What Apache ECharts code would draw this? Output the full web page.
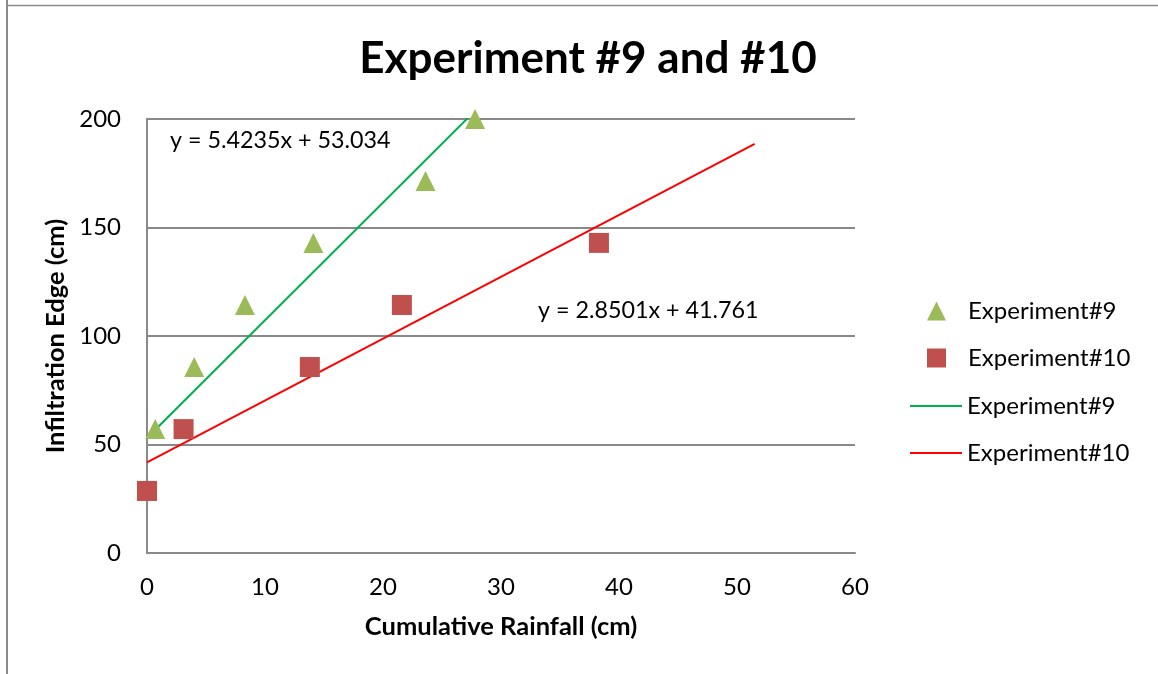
<!DOCTYPE html>
<html>
<head>
<meta charset="utf-8">
<script src="https://cdn.jsdelivr.net/npm/echarts@6/dist/echarts.min.js"></script>
<style>
html,body{margin:0;padding:0;background:#fff;}
#chart{width:1158px;height:674px;}
</style>
</head>
<body>
<div id="chart"></div>
<script>
// Data
const exp9X = [0, 0.7, 4.0, 8.3, 14.1, 23.6, 27.8];
const exp9Y = [28.6, 57.1, 85.7, 114.3, 142.9, 171.4, 200];
const exp10X = [0, 3.1, 13.8, 21.6, 38.3];
const exp10Y = [28.6, 57.1, 85.7, 114.3, 142.9];
// Trendline endpoints (Excel linear trendlines)
const trend9X = [0, 27.8];
const trend9Y = [53.0, 203.8];
const trend10X = [0, 51.5];
const trend10Y = [41.8, 188.5];
const eq9 = 'y = 5.4235x + 53.034';
const eq10 = 'y = 2.8501x + 41.761';
const xTicks = [0, 10, 20, 30, 40, 50, 60];
const yTicks = [0, 50, 100, 150, 200];

const zip = (xs, ys) => xs.map((x, i) => [x, ys[i]]);
const FONT = 'Lato';
const GRAY = '#898989';

const chart = echarts.init(document.getElementById('chart'), null, {renderer: 'canvas'});
chart.setOption({
  animation: false,
  backgroundColor: '#fff',
  title: {
    text: 'Experiment #9 and #10',
    left: 583, top: 54, textAlign: 'center', textVerticalAlign: 'middle',
    textStyle: {fontFamily: FONT, fontWeight: 'bold', fontSize: 44, color: '#000'}
  },
  grid: {left: 147, right: 303, top: 119, bottom: 121, containLabel: false},
  xAxis: {
    type: 'value', min: xTicks[0], max: xTicks[xTicks.length - 1], interval: 10,
    axisLine: {show: true, lineStyle: {color: GRAY, width: 2}},
    axisTick: {show: false},
    splitLine: {show: false},
    axisLabel: {fontFamily: FONT, fontSize: 24, color: '#000', margin: 22},
    name: 'Cumulative Rainfall (cm)', nameLocation: 'middle', nameGap: 61,
    nameTextStyle: {fontFamily: FONT, fontWeight: 'bold', fontSize: 25.5, color: '#000'}
  },
  yAxis: {
    type: 'value', min: yTicks[0], max: yTicks[yTicks.length - 1], interval: 50,
    axisLine: {show: true, lineStyle: {color: GRAY, width: 2}},
    axisTick: {show: false},
    splitLine: {show: true, lineStyle: {color: GRAY, width: 2}},
    axisLabel: {fontFamily: FONT, fontSize: 24, color: '#000', margin: 26},
    name: 'Infiltration Edge (cm)', nameLocation: 'middle', nameGap: 76, nameRotate: 90,
    nameTextStyle: {fontFamily: FONT, fontWeight: 'bold', fontSize: 25.5, color: '#000'}
  },
  legend: [
    {
      orient: 'vertical', left: 927, top: 297, padding: 0,
      itemWidth: 19, itemHeight: 19, itemGap: 19,
      textStyle: {fontFamily: FONT, fontSize: 24, color: '#000', lineHeight: 28, padding: [0, 0, 0, 17]},
      data: [{name: 'Experiment#9', icon: 'triangle'}, {name: 'Experiment#10', icon: 'rect'}]
    },
    {
      orient: 'vertical', left: 910, top: 392, padding: 0,
      itemWidth: 52, itemHeight: 2, itemGap: 19,
      textStyle: {fontFamily: FONT, fontSize: 24, color: '#000', lineHeight: 28},
      formatter: name => name.replace('Trend ', ''),
      data: [{name: 'Trend Experiment#9', icon: 'rect'}, {name: 'Trend Experiment#10', icon: 'rect'}]
    }
  ],
  series: [
    {
      name: 'Experiment#9', type: 'scatter', symbol: 'triangle', symbolSize: 20,
      itemStyle: {color: '#9BBB59', opacity: 1}, data: zip(exp9X, exp9Y), z: 3
    },
    {
      name: 'Experiment#10', type: 'scatter', symbol: 'rect', symbolSize: 20,
      itemStyle: {color: '#C0504D', opacity: 1}, data: zip(exp10X, exp10Y), z: 4
    },
    {
      name: 'Trend Experiment#9', type: 'line', symbol: 'none', showSymbol: false, clip: true,
      lineStyle: {color: '#00B050', width: 2}, itemStyle: {color: '#00B050'},
      data: zip(trend9X, trend9Y), z: 2
    },
    {
      name: 'Trend Experiment#10', type: 'line', symbol: 'none', showSymbol: false, clip: true,
      lineStyle: {color: '#FF0000', width: 2}, itemStyle: {color: '#FF0000'},
      data: zip(trend10X, trend10Y), z: 2
    }
  ],
  graphic: [
    {type: 'line', shape: {x1: 7, y1: 0, x2: 7, y2: 674}, style: {stroke: '#8a8a8a', lineWidth: 2}, silent: true},
    {type: 'line', shape: {x1: 6, y1: 5.5, x2: 1158, y2: 5.5}, style: {stroke: '#8a8a8a', lineWidth: 1.5}, silent: true},
    {type: 'text', left: 170, top: 129, style: {text: eq9, font: '23.3px Lato', fill: '#000'}, silent: true},
    {type: 'text', left: 538, top: 299, style: {text: eq10, font: '23.3px Lato', fill: '#000'}, silent: true}
  ]
});
</script>
</body>
</html>
